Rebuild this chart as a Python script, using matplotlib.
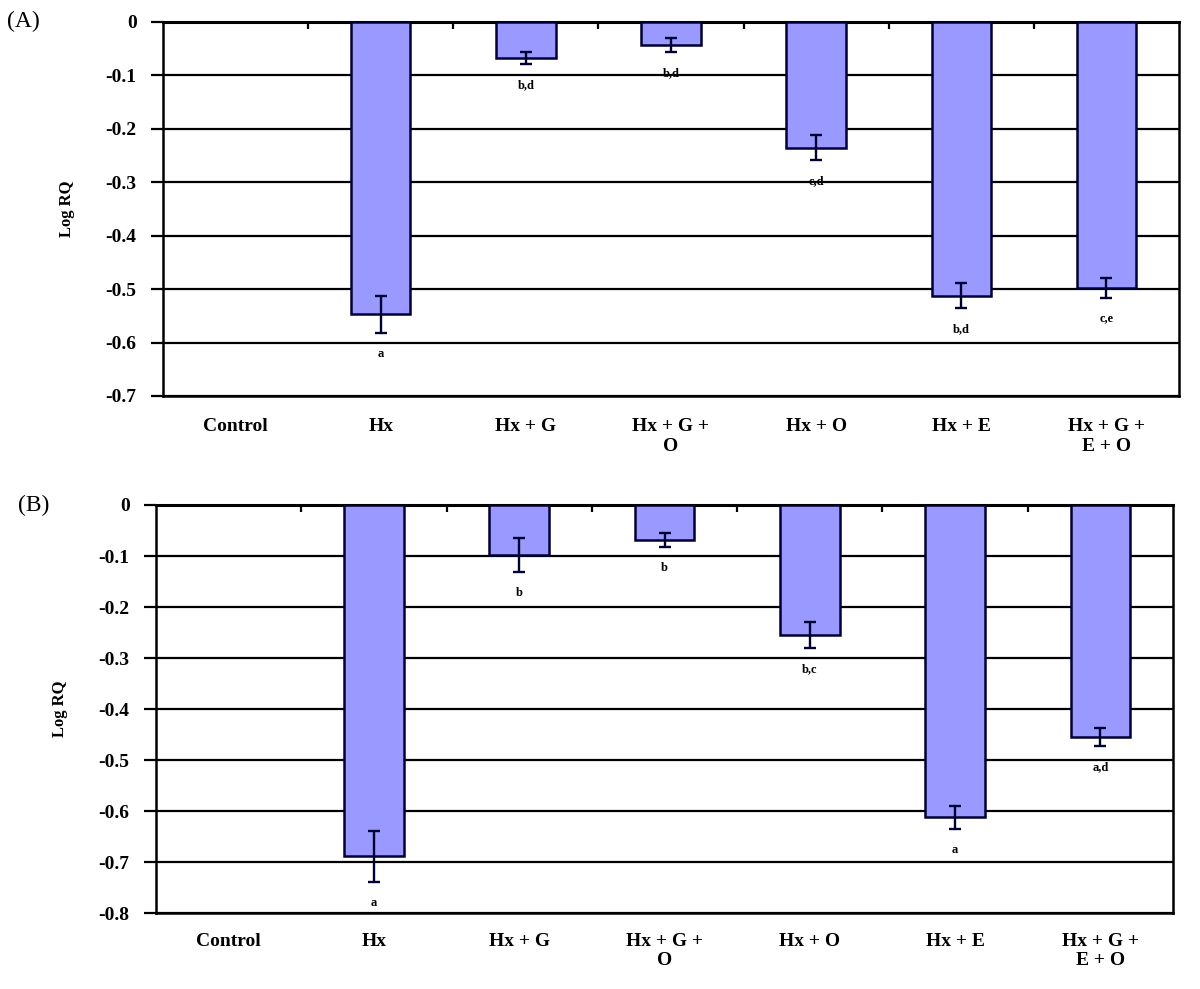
import matplotlib
matplotlib.use('Agg')
from matplotlib import pyplot as plt
import numpy as np

plt.rcParams['font.family'] = ['Liberation Serif', 'DejaVu Serif']
plt.rcParams['axes.unicode_minus'] = False

groups = ['Control', 'Hx', 'Hx + G', 'Hx + G +\nO', 'Hx + O', 'Hx + E', 'Hx + G +\nE + O']

# panel A
mean_a = [0.0, -0.547, -0.068, -0.043, -0.235, -0.512, -0.498]
err_a = [0.0, 0.035, 0.011, 0.013, 0.024, 0.024, 0.018]
letters_a = ['', 'a', 'b,d', 'b,d', 'c,d', 'b,d', 'c,e']

# panel B
mean_b = [0.0, -0.688, -0.098, -0.069, -0.255, -0.612, -0.455]
err_b = [0.0, 0.050, 0.033, 0.014, 0.025, 0.023, 0.018]
letters_b = ['', 'a', 'b', 'b', 'b,c', 'a', 'a,d']

bar_color = '#9999ff'
edge_color = '#000033'
fontsize = 14

fig = plt.figure(figsize=(12, 9.89), dpi=100)
ax_a = fig.add_axes([0.1358, 0.5996, 0.8467, 0.3782])
ax_b = fig.add_axes([0.13, 0.0765, 0.8475, 0.4129])


def draw_panel(ax, means, errs, letters, ymin, tag, tag_xy, label_pad):
    x = np.arange(len(groups))
    nz = np.array(means) != 0
    ax.bar(x[nz], np.array(means)[nz], width=0.41, color=bar_color,
           edgecolor=edge_color, linewidth=1.8, zorder=3)
    has_err = np.array(errs) > 0
    ax.errorbar(x[has_err], np.array(means)[has_err], yerr=np.array(errs)[has_err],
                fmt='none', ecolor=edge_color, elinewidth=1.7, capsize=4,
                capthick=1.7, zorder=4)
    for xi, m, e, lab in zip(x, means, errs, letters):
        if lab:
            ax.annotate(lab, (xi, m - e), xytext=(0, -15), textcoords='offset points',
                        ha='center', va='center', fontsize=9, fontweight='bold',
                        zorder=5)

    ax.set_xlim(-0.5, len(groups) - 0.5)
    ax.set_ylim(ymin, 0)
    yt = np.round(np.arange(0, ymin - 0.05, -0.1), 1)
    ax.set_yticks(yt)
    ax.set_yticklabels([f'{v:g}' if v != 0 else '0' for v in yt],
                       fontsize=fontsize, fontweight='bold')
    ax.yaxis.grid(True, color='black', linewidth=1.6, zorder=1)
    ax.set_axisbelow(True)
    ax.tick_params(axis='y', length=9, width=1.6, pad=10)

    ax.set_xticks(x)
    ax.set_xticklabels(groups, fontsize=fontsize, fontweight='bold', linespacing=1.2)
    ax.tick_params(axis='x', which='major', length=0, pad=label_pad)
    ax.set_xticks(np.arange(0.5, len(groups) - 1, 1.0), minor=True)
    ax.tick_params(axis='x', which='minor', top=True, bottom=False, direction='in',
                   length=5, width=1.6)

    for s in ax.spines.values():
        s.set_linewidth(1.8)
        s.set_color('black')
    ax.spines['top'].set_linewidth(2.2)

    ax.set_ylabel('Log RQ', fontsize=12, fontweight='bold', labelpad=22)
    fig.text(tag_xy[0], tag_xy[1], tag, fontsize=17, ha='left', va='center')


draw_panel(ax_a, mean_a, err_a, letters_a, -0.7, '(A)', (0.006, 0.978), 16)
draw_panel(ax_b, mean_b, err_b, letters_b, -0.8, '(B)', (0.015, 0.489), 14)

fig.savefig('out.png', dpi=100, facecolor='white')
